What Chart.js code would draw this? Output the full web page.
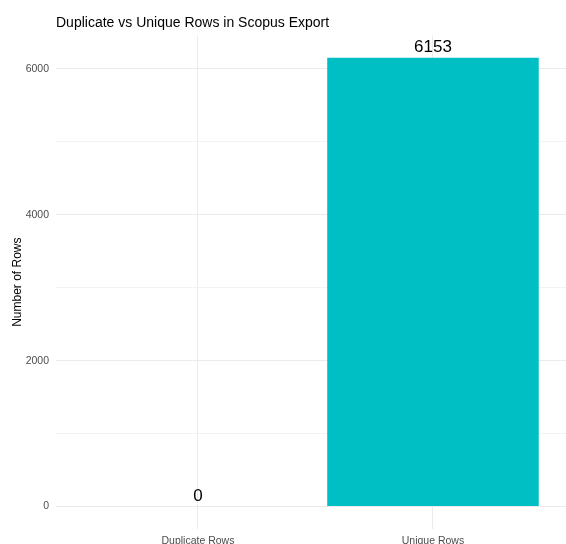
<!DOCTYPE html>
<html>
<head>
<meta charset="utf-8">
<script src="https://cdn.jsdelivr.net/npm/chart.js@4/dist/chart.umd.min.js"></script>
<style>
html,body{margin:0;padding:0;background:#fff;}
#wrap{width:566px;height:544px;position:relative;}
</style>
</head>
<body>
<div id="wrap"><canvas id="c" width="566" height="544"></canvas></div>
<script>
const categories = ['Duplicate Rows', 'Unique Rows'];
const rowCounts = [0, 6153];
const yTicks = [0, 1000, 2000, 3000, 4000, 5000, 6000];
const yLabelled = [0, 2000, 4000, 6000];
const chartTitle = 'Duplicate vs Unique Rows in Scopus Export';
const yTitle = 'Number of Rows';

const FONT = '"Liberation Sans", Arial, Helvetica, sans-serif';
const maxVal = Math.max(...rowCounts);
const yMin = -0.05 * maxVal, yMax = 1.05 * maxVal;

const labelPlugin = {
  id: 'barLabels',
  afterDatasetsDraw(chart) {
    const ctx = chart.ctx;
    const xs = chart.scales.x, ys = chart.scales.y;
    ctx.save();
    ctx.font = '17px ' + FONT;
    ctx.fillStyle = '#000';
    ctx.textAlign = 'center';
    ctx.textBaseline = 'alphabetic';
    rowCounts.forEach((v, i) => {
      ctx.fillText(String(v), xs.getPixelForValue(i + 1), ys.getPixelForValue(v) - 5.5);
    });
    ctx.font = '14px ' + FONT;
    ctx.textAlign = 'left';
    ctx.fillStyle = '#000';
    ctx.fillText(chartTitle, chart.chartArea.left, 27);
    ctx.restore();
  }
};

new Chart(document.getElementById('c'), {
  type: 'bar',
  data: {
    datasets: [{
      data: rowCounts.map((v, i) => ({x: i + 1, y: v})),
      backgroundColor: '#00BFC4',
      borderWidth: 0,
      barPercentage: 0.9,
      categoryPercentage: 1.0
    }]
  },
  options: {
    responsive: false,
    animation: false,
    devicePixelRatio: 1,
    layout: {padding: {left: 0, right: 0, top: 35.4, bottom: 0}},
    plugins: {legend: {display: false}, tooltip: {enabled: false}, title: {display: false}},
    scales: {
      x: {
        type: 'linear',
        offset: false,
        min: 0.396,
        max: 2.566,
        afterBuildTicks(s) { s.ticks = categories.map((c, i) => ({value: i + 1})); },
        afterFit(s) { s.height = 15.1; },
        ticks: {
          callback: (v) => categories[Math.round(v) - 1] || '',
          font: {family: FONT, size: 10.5},
          color: '#4D4D4D',
          padding: 6,
          maxRotation: 0,
          autoSkip: false
        },
        grid: {color: '#EBEBEB', lineWidth: 1, drawTicks: false, offset: false},
        border: {display: false}
      },
      y: {
        type: 'linear',
        min: yMin,
        max: yMax,
        afterBuildTicks(s) { s.ticks = yTicks.map(v => ({value: v})); },
        afterFit(s) { s.width = 56; },
        ticks: {
          callback: (v) => yLabelled.includes(v) ? String(v) : '',
          font: {family: FONT, size: 10.5},
          color: '#4D4D4D',
          padding: 7,
          autoSkip: false
        },
        grid: {
          color: (c) => (c.tick && yLabelled.includes(c.tick.value)) ? '#EBEBEB' : '#F3F3F3',
          lineWidth: 1,
          drawTicks: false
        },
        border: {display: false},
        title: {
          display: true,
          text: yTitle,
          font: {family: FONT, size: 12},
          color: '#000',
          padding: {top: 10, bottom: 0}
        }
      }
    }
  },
  plugins: [labelPlugin]
});
</script>
</body>
</html>
